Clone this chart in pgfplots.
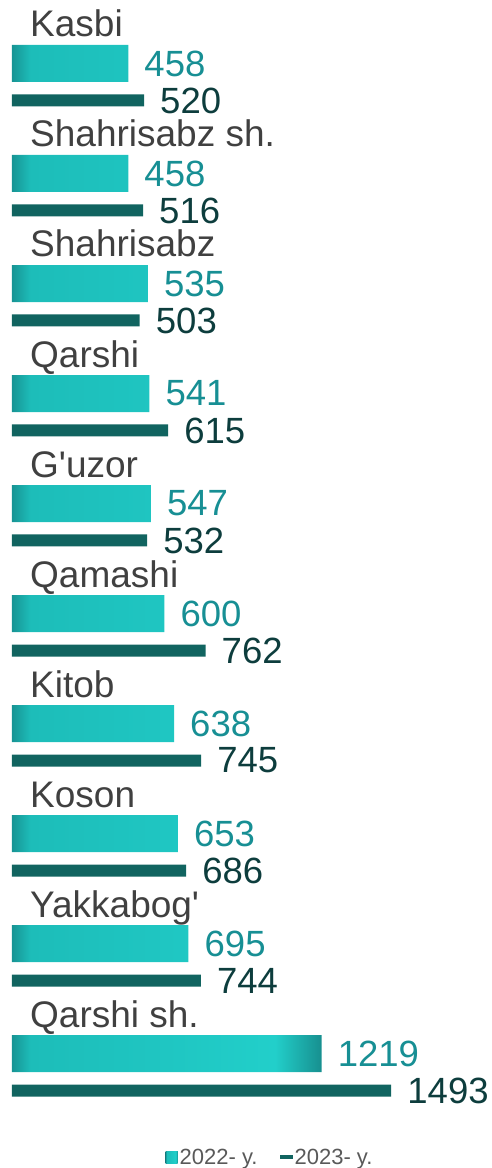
\documentclass[border=0pt]{standalone}
\usepackage{fontspec}
\setmainfont{Liberation Sans}
\usepackage{pgfplots}
\usepackage{pgfplotstable}
\pgfplotsset{compat=1.18}

\definecolor{tealA}{HTML}{179494}
\definecolor{tealB}{HTML}{1DBDB9}
\definecolor{tealC}{HTML}{1FC6C2}
\definecolor{tealD}{HTML}{22CFCA}
\definecolor{tealE}{HTML}{178F8F}
\definecolor{darkbar}{HTML}{116460}
\definecolor{lab22}{HTML}{178F94}
\definecolor{lab23}{HTML}{0D3D3D}
\definecolor{catgray}{HTML}{404040}
\definecolor{leggray}{HTML}{595959}

\pgfdeclarehorizontalshading{barshade}{100bp}{color(0bp)=(tealA); color(25bp)=(tealA);
  color(28bp)=(tealB); color(50bp)=(tealC); color(67.5bp)=(tealD); color(75bp)=(tealE); color(100bp)=(tealE)}

% idx = row from the top, values for 2022 and 2023
\pgfplotstableread{
idx v22 v23
0 458 520
1 458 516
2 535 503
3 541 615
4 547 532
5 600 762
6 638 745
7 653 686
8 695 744
9 1219 1493
}\data

\newcommand{\numtxt}{\fontsize{36.5}{40}\selectfont}
\newcommand{\cattxt}{\fontsize{37}{40}\selectfont}
\tikzset{cat/.style={anchor=base west, inner sep=0pt, font=\cattxt, text=catgray}}

\begin{document}
\begin{tikzpicture}
\begin{axis}[
  x=0.254pt, y=110pt,
  xmin=-47, xmax=1886,
  ymin=-0.577, ymax=10.04,
  y dir=reverse,
  hide axis, clip=false,
  xbar, bar shift=0pt,
  /pgf/number format/1000 sep={},
  /pgf/number format/assume math mode=true,
  nodes near coords,
  every node near coord/.append style={anchor=west, inner sep=0pt, xshift=16pt, font=\numtxt},
  legend style={at={(0.55,0)}, anchor=south, draw=none, fill=none, inner sep=0pt,
    legend columns=2, font=\fontsize{22}{24}\selectfont, text=leggray,
    /tikz/every even column/.append style={column sep=20pt}},
]
\addplot[bar width=37pt, draw=none, shading=barshade,
  every node near coord/.append style={text=lab22},
  legend image code/.code={\fill[tealC] (0pt,-6pt) rectangle (12pt,6pt);}]
  table[x=v22, y=idx] {\data};
\addlegendentry{2022- y.}
\addplot[bar width=12pt, draw=none, fill=darkbar,
  every node near coord/.append style={text=lab23},
  legend image code/.code={\fill[darkbar] (0pt,-2pt) rectangle (13pt,2pt);}]
  table[x=v23, y expr=\thisrow{idx}+0.336] {\data};
\addlegendentry{2023- y.}

\node[cat] at (axis cs:71,-0.241) {Kasbi};
\node[cat] at (axis cs:71,0.759) {Shahrisabz sh.};
\node[cat] at (axis cs:71,1.759) {Shahrisabz};
\node[cat] at (axis cs:71,2.759) {Qarshi};
\node[cat] at (axis cs:71,3.759) {G\textquotesingle uzor};
\node[cat] at (axis cs:71,4.759) {Qamashi};
\node[cat] at (axis cs:71,5.759) {Kitob};
\node[cat] at (axis cs:71,6.759) {Koson};
\node[cat] at (axis cs:71,7.759) {Yakkabog\textquotesingle};
\node[cat] at (axis cs:71,8.759) {Qarshi sh.};
\path (rel axis cs:0,0) rectangle (rel axis cs:1,1);
\end{axis}
\end{tikzpicture}
\end{document}
